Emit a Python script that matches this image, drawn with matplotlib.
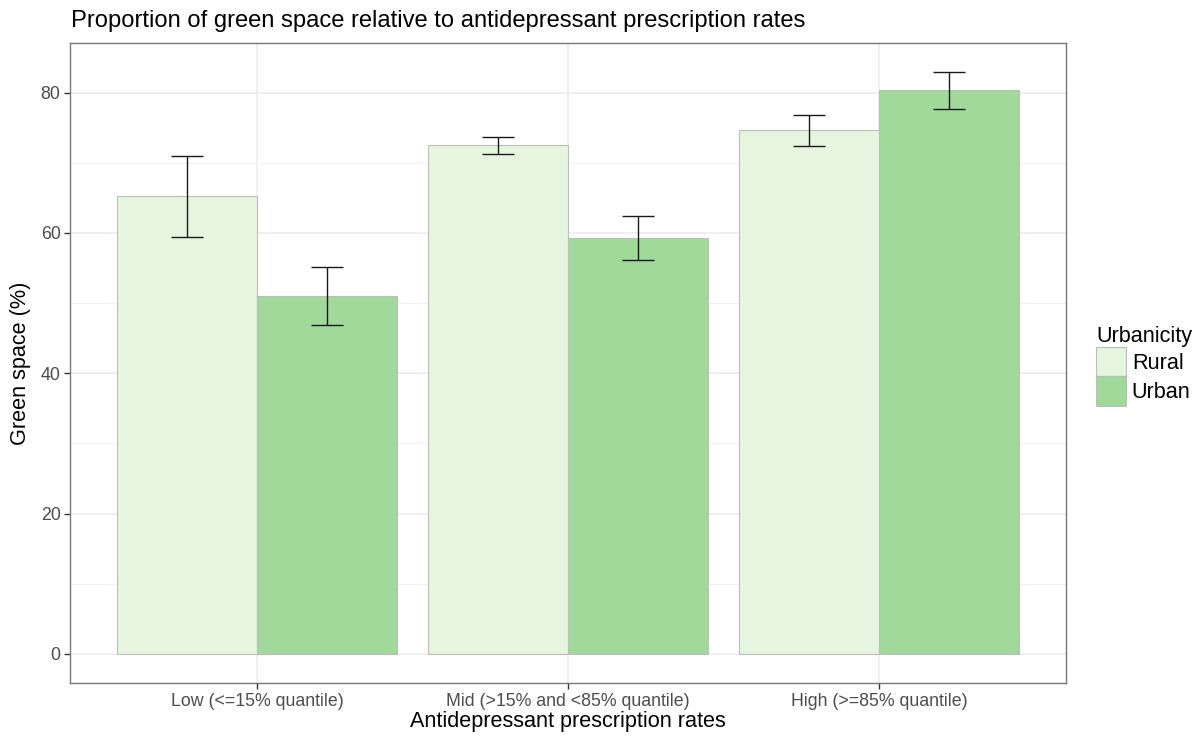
import matplotlib
matplotlib.use("Agg")
import matplotlib.pyplot as plt
from matplotlib.patches import Patch
from matplotlib.ticker import MultipleLocator
import numpy as np

plt.rcParams['font.family'] = ['Liberation Sans', 'DejaVu Sans']

categories = ["Low (<=15% quantile)", "Mid (>15% and <85% quantile)", "High (>=85% quantile)"]
groups = ["Rural", "Urban"]
rural_mean = [65.2, 72.45, 74.6]
urban_mean = [50.95, 59.25, 80.3]
rural_low = [59.45, 71.25, 72.35]
rural_high = [70.98, 73.65, 76.8]
urban_low = [46.8, 56.1, 77.65]
urban_high = [55.2, 62.35, 82.95]
colors = {"Rural": "#E5F5E0", "Urban": "#A1D99B"}

fig = plt.figure(figsize=(12.01, 7.37), dpi=100)
ax = fig.add_axes([70.3/1201, 1-683/737, (1065.7-70.3)/1201, (683-42.7)/737])

x = np.arange(1, len(categories)+1)
bw = 0.45
means = {"Rural": rural_mean, "Urban": urban_mean}
lows = {"Rural": rural_low, "Urban": urban_low}
highs = {"Rural": rural_high, "Urban": urban_high}
for i, g in enumerate(groups):
    xpos = x + (i - 0.5) * bw
    ax.bar(xpos, means[g], width=bw, color=colors[g], edgecolor="#BDBDBD",
           linewidth=0.8, zorder=2)
    m = np.array(means[g])
    lo = m - np.array(lows[g])
    hi = np.array(highs[g]) - m
    ax.errorbar(xpos, m, yerr=[lo, hi], fmt='none', ecolor="#1a1a1a",
                elinewidth=1.0, capsize=11.3, capthick=1.0, zorder=3)

ymax = max(max(rural_high), max(urban_high))
ax.set_ylim(-0.05*ymax, ymax*1.05)
ax.set_xlim(0.4, 3.6)
ax.set_xticks(x)
ax.set_xticklabels(categories)
ax.yaxis.set_major_locator(MultipleLocator(20))
ax.yaxis.set_minor_locator(MultipleLocator(10))
ax.grid(which='major', color="#EBEBEB", linewidth=1.1, zorder=0)
ax.grid(which='minor', axis='y', color="#F2F2F2", linewidth=0.8, zorder=0)
ax.set_axisbelow(True)
for s in ax.spines.values():
    s.set_color("#777777")
    s.set_linewidth(1.0)
ax.tick_params(axis='both', which='major', length=4, width=1.0, color="#333333",
               labelsize=12.8, labelcolor="#4D4D4D", pad=3)
ax.tick_params(axis='y', which='minor', length=0)

ax.set_xlabel("Antidepressant prescription rates", fontsize=15.6, color="black", labelpad=1)
ax.set_ylabel("Green space (%)", fontsize=15.6, color="black", labelpad=7)

fig.text(71/1201, 1-27/737, "Proportion of green space relative to antidepressant prescription rates",
         fontsize=17.1, va='baseline', ha='left', color='black')

handles = [Patch(facecolor=colors[g], edgecolor="#BDBDBD", linewidth=0.8) for g in groups]
leg = fig.legend(handles, groups, title="Urbanicity", loc='center left',
                 bbox_to_anchor=(1096/1201, 1-366/737), frameon=False,
                 fontsize=15.6, title_fontsize=15.6, handlelength=1.4, handleheight=1.7,
                 labelspacing=0.0, handletextpad=0.25, borderaxespad=0, borderpad=0,
                 alignment='left')

fig.savefig("out.png", dpi=100)
